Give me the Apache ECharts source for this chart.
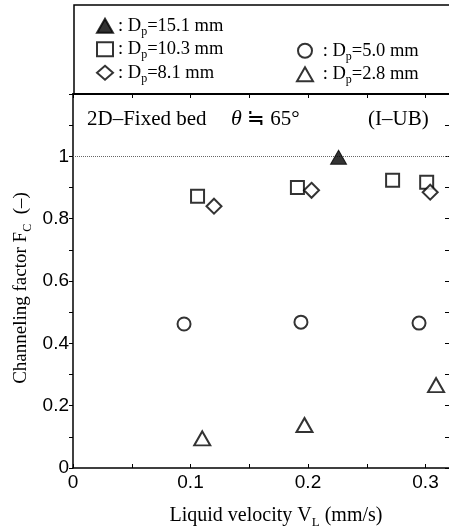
<!DOCTYPE html>
<html>
<head>
<meta charset="utf-8">
<script src="https://cdn.jsdelivr.net/npm/echarts@6/dist/echarts.min.js"></script>
<style>
  html, body { margin: 0; padding: 0; background: #fff; }
  #chart { width: 449px; height: 530px; }
</style>
</head>
<body>
<div id="chart"></div>
<script>
// data: [liquid velocity (mm/s), channeling factor]
const xLabels = [0, 0.1, 0.2, 0.3];
const yLabels = [0, 0.2, 0.4, 0.6, 0.8, 1];
const dp151 = [[0.226, 0.997]];
const dp103 = [[0.106, 0.872], [0.191, 0.900], [0.272, 0.923], [0.301, 0.917]];
const dp81 = [[0.120, 0.840], [0.203, 0.891], [0.304, 0.885]];
const dp50 = [[0.0945, 0.462], [0.194, 0.468], [0.2945, 0.465]];
const dp28 = [[0.110, 0.095], [0.197, 0.138], [0.309, 0.266]];

const serif = 'Liberation Serif';
const sans = 'Liberation Sans';

const near = (v, list) => list.some((t) => Math.abs(t - v) < 1e-6);
const fmt = (v) => String(+v.toFixed(1));

const chart = echarts.init(document.getElementById('chart'));

const openStyle = { color: '#fff', borderColor: '#000', borderWidth: 2 };

const legendText = {
  fontFamily: serif,
  fontSize: 18.5,
  color: '#000',
  lineHeight: 23.5,
  rich: {
    s: { fontFamily: serif, fontSize: 12, verticalAlign: 'bottom', lineHeight: 12 },
  },
};

const option = {
  animation: false,
  backgroundColor: '#fff',
  grid: { left: 73, top: 94, width: 377, bottom: 62 },
  legend: [
    {
      orient: 'vertical',
      left: 91,
      top: 9,
      itemWidth: 16,
      itemHeight: 14,
      itemGap: 0,
      data: ['Dp=15.1 mm', 'Dp=10.3 mm', 'Dp=8.1 mm'],
      formatter: (name) => ': D{s|p}' + name.slice(2),
      textStyle: legendText,
    },
    {
      orient: 'vertical',
      left: 291,
      top: 34,
      itemWidth: 16,
      itemHeight: 14,
      itemGap: 0,
      data: ['Dp=5.0 mm', 'Dp=2.8 mm'],
      formatter: (name) => ' : D{s|p}' + name.slice(2),
      textStyle: legendText,
    },
  ],
  xAxis: [
    {
      type: 'value',
      min: 0,
      max: 0.32,
      interval: 0.05,
      axisLine: { show: true, onZero: false, lineStyle: { color: '#000', width: 1.5 } },
      axisTick: { show: true, inside: true, length: 4, lineStyle: { color: '#000' } },
      axisLabel: {
        color: '#000',
        fontFamily: sans,
        fontSize: 19,
        margin: 5,
        showMaxLabel: false,
        formatter: (v) => (near(v, xLabels) ? fmt(v) : ''),
      },
      splitLine: { show: false },
    },
    {
      type: 'value',
      position: 'top',
      min: 0,
      max: 0.32,
      interval: 0.05,
      axisLine: { show: true, onZero: false, lineStyle: { color: '#000', width: 2 } },
      axisTick: { show: true, inside: true, length: 4, lineStyle: { color: '#000' } },
      axisLabel: { show: false },
      splitLine: { show: false },
    },
  ],
  yAxis: [
    {
      type: 'value',
      min: 0,
      max: 1.2,
      interval: 0.1,
      axisLine: { show: true, onZero: false, lineStyle: { color: '#000', width: 1.5 } },
      axisTick: { show: true, length: 4, lineStyle: { color: '#000' } },
      axisLabel: {
        color: '#000',
        fontFamily: sans,
        fontSize: 19,
        margin: 4,
        formatter: (v) => (near(v, yLabels) ? fmt(v) : ''),
      },
      splitLine: { show: false },
    },
    {
      type: 'value',
      position: 'right',
      min: 0,
      max: 1.2,
      interval: 0.1,
      axisLine: { show: false, onZero: false },
      axisTick: { show: true, inside: true, length: 4, lineStyle: { color: '#000' } },
      axisLabel: { show: false },
      splitLine: { show: false },
    },
  ],
  series: [
    {
      name: 'Dp=15.1 mm',
      type: 'scatter',
      symbol: 'triangle',
      symbolSize: [16, 14],
      itemStyle: { color: '#000', borderColor: '#000', borderWidth: 1 },
      data: dp151,
      z: 5,
      markLine: {
        silent: true,
        symbol: 'none',
        label: { show: false },
        lineStyle: { type: 'dotted', color: '#666', width: 1 },
        data: [{ yAxis: 1 }],
      },
    },
    {
      name: 'Dp=10.3 mm',
      type: 'scatter',
      symbol: 'rect',
      symbolSize: 13,
      itemStyle: openStyle,
      data: dp103,
    },
    {
      name: 'Dp=8.1 mm',
      type: 'scatter',
      symbol: 'diamond',
      symbolSize: 15,
      itemStyle: openStyle,
      data: dp81,
    },
    {
      name: 'Dp=5.0 mm',
      type: 'scatter',
      symbol: 'circle',
      symbolSize: 13,
      itemStyle: openStyle,
      data: dp50,
    },
    {
      name: 'Dp=2.8 mm',
      type: 'scatter',
      symbol: 'triangle',
      symbolSize: [16, 14],
      itemStyle: openStyle,
      data: dp28,
    },
  ],
  graphic: [
    {
      type: 'polyline',
      shape: { points: [[450, 5], [74, 5], [74, 94]] },
      style: { stroke: '#000', lineWidth: 1.5, fill: null },
    },
    {
      type: 'text',
      x: 87,
      y: 119,
      style: {
        text: '2D–Fixed bed',
        fontFamily: serif,
        fontSize: 21,
        fill: '#000',
        verticalAlign: 'middle',
      },
    },
    {
      type: 'text',
      x: 231,
      y: 119,
      style: {
        text: '{i|θ} ≒ 65°',
        fontFamily: serif,
        fontSize: 21,
        fill: '#000',
        verticalAlign: 'middle',
        rich: { i: { fontFamily: serif, fontStyle: 'italic', fontSize: 22 } },
      },
    },
    {
      type: 'text',
      x: 368,
      y: 119,
      style: { text: '(I–UB)', fontFamily: serif, fontSize: 21, fill: '#000', verticalAlign: 'middle' },
    },
    {
      type: 'text',
      x: 276,
      y: 516,
      style: {
        text: 'Liquid velocity V{s|L} (mm/s)',
        fontFamily: serif,
        fontSize: 20,
        fill: '#000',
        align: 'center',
        verticalAlign: 'middle',
        lineHeight: 26,
        rich: { s: { fontFamily: serif, fontSize: 13, verticalAlign: 'bottom', lineHeight: 13 } },
      },
    },
    {
      type: 'text',
      x: 21,
      y: 288,
      rotation: Math.PI / 2,
      style: {
        text: 'Channeling factor F{s|C}  (–)',
        fontFamily: serif,
        fontSize: 19,
        fill: '#000',
        align: 'center',
        verticalAlign: 'middle',
        lineHeight: 25,
        rich: { s: { fontFamily: serif, fontSize: 12, verticalAlign: 'bottom', lineHeight: 12 } },
      },
    },
  ],
};

chart.setOption(option);
</script>
</body>
</html>
